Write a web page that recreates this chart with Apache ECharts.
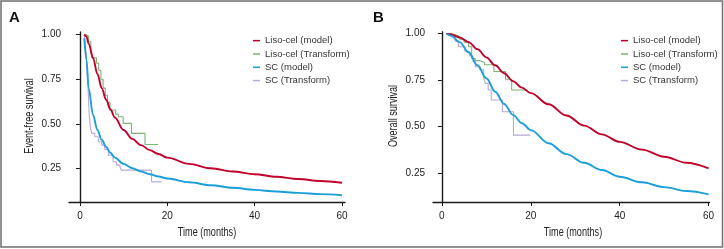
<!DOCTYPE html>
<html><head><meta charset="utf-8">
<script src="https://cdn.jsdelivr.net/npm/echarts@6/dist/echarts.min.js"></script>
<style>html,body{margin:0;padding:0;background:#fff}#c{width:724px;height:249px}</style>
</head><body><div id="c"></div>
<script>
// ---------- DATA ----------
const seriesNames = ['Liso-cel (model)', 'Liso-cel (Transform)', 'SC (model)', 'SC (Transform)'];
const xTicks = [0, 20, 40, 60];
const yTicks = [0.25, 0.50, 0.75, 1.00];
const xTitle = 'Time (months)';
const yTitles = ['Event-free survival', 'Overall survival'];
const panelLabels = ['A', 'B'];

// Panel A: event-free survival
const aModelT   = [1, 1.5, 2, 3, 4, 5, 6, 7, 8, 10, 12, 14, 16, 18, 20, 25, 30, 35, 40, 45, 50, 55, 60];
const aLisoModel = [1.0, 0.99, 0.95, 0.87, 0.78, 0.70, 0.635, 0.58, 0.535, 0.465, 0.415, 0.38, 0.352, 0.33, 0.31, 0.275, 0.25, 0.232, 0.217, 0.203, 0.19, 0.179, 0.169];
const aScModel   = [0.98, 0.86, 0.70, 0.55, 0.465, 0.41, 0.37, 0.337, 0.31, 0.275, 0.25, 0.232, 0.217, 0.204, 0.193, 0.172, 0.155, 0.141, 0.129, 0.12, 0.112, 0.105, 0.099];
const aLisoKmT = [1, 1.5, 2, 2.5, 2.8, 3.8, 4.3, 4.8, 5.3, 5.8, 6.3, 6.9, 8.2, 8.8, 9.9, 11.8, 14.9, 17.9];
const aLisoKmS = [1.0, 0.99, 0.96, 0.90, 0.87, 0.84, 0.80, 0.75, 0.70, 0.66, 0.62, 0.577, 0.554, 0.539, 0.502, 0.446, 0.384, 0.384];
const aScKmT = [1, 1.3, 1.6, 1.9, 2.1, 2.4, 2.7, 3.4, 4.2, 5.0, 5.7, 6.5, 7.6, 8.4, 9.2, 9.5, 16.4, 18.7];
const aScKmS = [1.0, 0.92, 0.82, 0.68, 0.56, 0.48, 0.446, 0.427, 0.399, 0.38, 0.356, 0.324, 0.287, 0.268, 0.255, 0.24, 0.174, 0.174];

// Panel B: overall survival
const bModelT    = [1, 2, 4, 6, 8, 10, 12, 14, 16, 18, 20, 24, 28, 32, 36, 40, 45, 50, 55, 60];
const bLisoModel = [1.0, 0.997, 0.98, 0.955, 0.917, 0.873, 0.83, 0.787, 0.745, 0.71, 0.68, 0.62, 0.56, 0.505, 0.458, 0.418, 0.376, 0.338, 0.305, 0.275];
const bScModel   = [1.0, 0.99, 0.955, 0.90, 0.83, 0.76, 0.688, 0.622, 0.563, 0.518, 0.481, 0.41, 0.352, 0.305, 0.266, 0.23, 0.20, 0.174, 0.153, 0.135];
const bLisoKmT = [1, 2, 3, 4, 5, 6, 6.7, 7.5, 8.5, 9.6, 11.7, 14.3, 15.7, 19.0];
const bLisoKmS = [1.0, 0.995, 0.985, 0.97, 0.955, 0.93, 0.867, 0.855, 0.845, 0.833, 0.797, 0.755, 0.697, 0.697];
const bScKmT = [1, 2, 3, 3.7, 5.2, 6.2, 7, 7.5, 8.5, 9.4, 9.8, 10.4, 11.1, 13.6, 16.1, 19.9];
const bScKmS = [1.0, 0.985, 0.96, 0.93, 0.905, 0.88, 0.85, 0.822, 0.806, 0.76, 0.733, 0.697, 0.643, 0.58, 0.454, 0.454];

// ---------- STYLE ----------
const colors = ['#c0002a', '#7fb274', '#1b9ed9', '#bca7d8'];
const tickFont = "'Liberation Sans', Arial, sans-serif";
const zip = (t, s) => t.map((x, i) => [x, s[i]]);

function xAx(gi, min, max) {
  return {
    type: 'value', gridIndex: gi, min: min, max: max,
    axisLine: { lineStyle: { color: '#1a1a1a', width: 1.4 } },
    axisTick: { customValues: xTicks, length: 4, lineStyle: { color: '#1a1a1a', width: 1 } },
    axisLabel: { customValues: xTicks, fontFamily: tickFont, fontSize: 10, color: '#222', margin: 9 },
    splitLine: { show: false }
  };
}
function yAx(gi, min, max) {
  return {
    type: 'value', gridIndex: gi, min: min, max: max,
    axisLine: { show: true, lineStyle: { color: '#1a1a1a', width: 1.4 } },
    axisTick: { show: true, customValues: yTicks, length: 4, lineStyle: { color: '#1a1a1a', width: 1 } },
    axisLabel: { customValues: yTicks, formatter: v => v.toFixed(2), fontFamily: tickFont, fontSize: 10, color: '#222', margin: 8 },
    splitLine: { show: false }
  };
}
function model(name, gi, data, color) {
  return { name, type: 'line', xAxisIndex: gi, yAxisIndex: gi, data, showSymbol: false, smooth: 0.35, smoothMonotone: 'x',
    lineStyle: { color, width: 1.9 }, itemStyle: { color }, z: 3, silent: true, animation: false };
}
function km(name, gi, data, color) {
  return { name, type: 'line', xAxisIndex: gi, yAxisIndex: gi, data, showSymbol: false, step: 'end',
    lineStyle: { color, width: 1.1 }, itemStyle: { color }, z: 2, silent: true, animation: false };
}
function legend(left) {
  return {
    data: seriesNames, orient: 'vertical', left: left, top: 34,
    icon: 'rect', itemWidth: 7, itemHeight: 1.5, itemGap: 0,
    textStyle: { fontFamily: tickFont, fontSize: 9.5, color: '#333', lineHeight: 13.3 },
    padding: 0, selectedMode: false
  };
}
function titleText(text, x, y, rot) {
  return { type: 'text', x: x, y: y, rotation: rot, scaleX: 0.7, silent: true,
    style: { text: text, font: "13px 'Liberation Sans', Arial, sans-serif", fill: '#222', align: 'center', verticalAlign: 'middle' } };
}

const chart = echarts.init(document.getElementById('c'), null, { renderer: 'canvas' });
chart.setOption({
  animation: false,
  backgroundColor: '#fff',
  grid: [
    { left: 69, top: 32, width: 276, height: 170 },
    { left: 433, top: 31.7, width: 276.5, height: 170.3 }
  ],
  xAxis: [xAx(0, -2.5, 60.7), xAx(1, -2.0, 60.2)],
  yAxis: [yAx(0, 0.061, 1.015), yAx(1, 0.094, 1.011)],
  legend: [legend(253), legend(621)],
  series: [
    km(seriesNames[1], 0, zip(aLisoKmT, aLisoKmS), colors[1]),
    km(seriesNames[3], 0, zip(aScKmT, aScKmS), colors[3]),
    model(seriesNames[0], 0, zip(aModelT, aLisoModel), colors[0]),
    model(seriesNames[2], 0, zip(aModelT, aScModel), colors[2]),
    km(seriesNames[1], 1, zip(bLisoKmT, bLisoKmS), colors[1]),
    km(seriesNames[3], 1, zip(bScKmT, bScKmS), colors[3]),
    model(seriesNames[0], 1, zip(bModelT, bLisoModel), colors[0]),
    model(seriesNames[2], 1, zip(bModelT, bScModel), colors[2])
  ],
  graphic: [
    { type: 'rect', shape: { x: 1, y: 1, width: 721.5, height: 246 }, style: { fill: 'none', stroke: '#6e6e6e', lineWidth: 1.5 }, silent: true },
    { type: 'text', left: 9, top: 10, style: { text: panelLabels[0], font: "bold 15px 'Liberation Sans', Arial, sans-serif", fill: '#111' } },
    { type: 'text', left: 373, top: 10, style: { text: panelLabels[1], font: "bold 15px 'Liberation Sans', Arial, sans-serif", fill: '#111' } },
    titleText(xTitle, 207, 232, 0),
    titleText(xTitle, 573, 232, 0),
    titleText(yTitles[0], 29, 116, Math.PI / 2),
    titleText(yTitles[1], 393.5, 116, Math.PI / 2)
  ]
});
</script></body></html>
